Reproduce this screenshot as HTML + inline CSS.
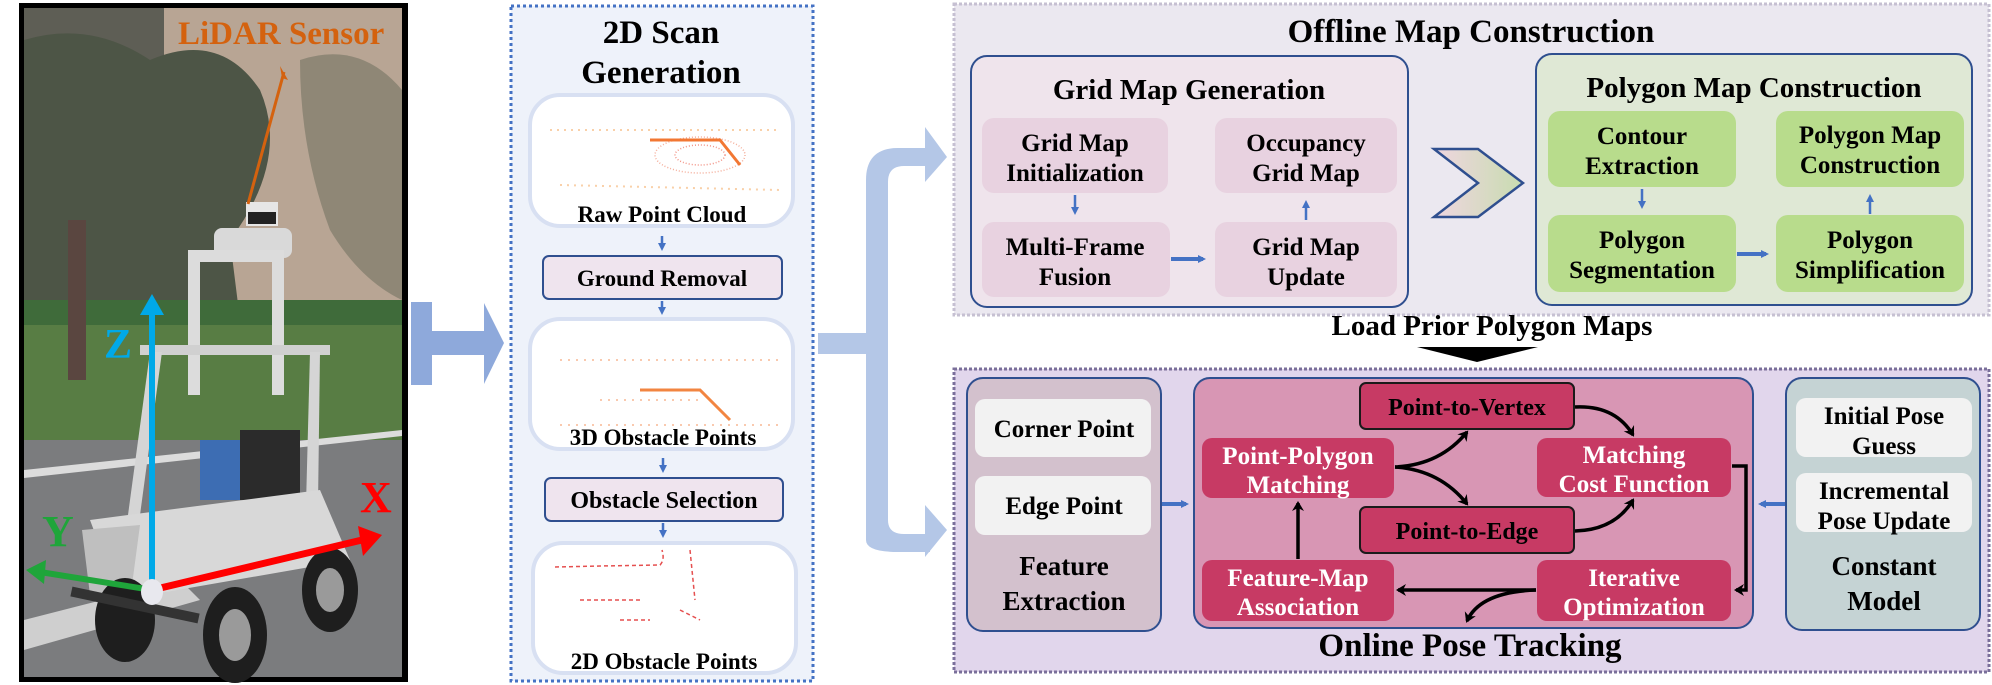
<!DOCTYPE html>
<html><head><meta charset="utf-8"><style>
html,body{margin:0;padding:0;background:#fff}
svg{display:block}
text{font-family:"Liberation Serif",serif;font-weight:bold;}
</style></head><body>
<svg width="1992" height="685" viewBox="0 0 1992 685" xmlns="http://www.w3.org/2000/svg">
<defs>
<linearGradient id="chev" x1="0" x2="1"><stop offset="0" stop-color="#efd6e0"/><stop offset="1" stop-color="#c8dcb0"/></linearGradient>
<marker id="bm" markerWidth="8" markerHeight="8" refX="5" refY="4" orient="auto" markerUnits="userSpaceOnUse"><path d="M0,0 L8,4 L0,8 Z" fill="#4472c4"/></marker>
<marker id="km" markerWidth="12" markerHeight="12" refX="8" refY="6" orient="auto" markerUnits="userSpaceOnUse"><path d="M0,0 L10,6 L0,12 L3,6 Z" fill="#000"/></marker>
</defs>

<!-- PHOTO -->
<rect x="19" y="3" width="389" height="679" fill="#000"/>
<rect x="24" y="8" width="378" height="669" fill="#a59482"/>
<rect x="24" y="8" width="378" height="300" fill="#b8a594"/>
<rect x="24" y="8" width="140" height="300" fill="#5e5e55"/>
<path d="M24,40 Q90,20 150,60 Q220,30 260,90 Q290,160 230,240 L240,320 L24,320 Z" fill="#4d5546"/>
<path d="M300,60 Q360,40 402,90 L402,300 Q360,280 330,230 Q300,150 300,60Z" fill="#7d7a6a" opacity="0.7"/>
<rect x="24" y="300" width="378" height="30" fill="#3f6b3a"/>
<rect x="24" y="325" width="378" height="120" fill="#587d44"/>
<rect x="24" y="440" width="378" height="237" fill="#7b7c7e"/>
<path d="M24,470 L402,430 L402,436 L24,478Z" fill="#dcdcdc"/>
<path d="M24,620 L180,580 L200,600 L24,650Z" fill="#cfcfcf"/>
<rect x="68" y="220" width="18" height="160" fill="#5a4640"/>
<rect x="246" y="202" width="32" height="24" fill="#e6e6e6"/>
<rect x="248" y="212" width="28" height="12" fill="#222"/>
<rect x="214" y="228" width="78" height="30" rx="8" fill="#d9d9d9"/>
<path d="M188,250 L284,250 L284,395 L272,395 L272,262 L200,262 L200,395 L188,395Z" fill="#dcdcdc"/>
<rect x="140" y="345" width="190" height="10" fill="#d0d0d0"/>
<path d="M150,352 L162,352 L140,515 L128,515Z" fill="#d5d5d5"/>
<path d="M310,352 L320,352 L318,505 L306,505Z" fill="#d5d5d5"/>
<rect x="200" y="440" width="50" height="60" fill="#3d6db3"/>
<rect x="240" y="430" width="60" height="70" fill="#2b2b2b"/>
<path d="M90,520 L320,490 L350,560 L120,600 Z" fill="#d8d8d8"/>
<path d="M82,530 L140,525 L130,600 L90,595Z" fill="#bfbfbf"/>
<ellipse cx="125" cy="620" rx="30" ry="42" fill="#1e1e1e"/>
<ellipse cx="235" cy="635" rx="32" ry="48" fill="#1e1e1e"/>
<ellipse cx="235" cy="635" rx="16" ry="26" fill="#9a9a9a"/>
<ellipse cx="330" cy="590" rx="28" ry="42" fill="#1e1e1e"/>
<ellipse cx="330" cy="590" rx="14" ry="22" fill="#9a9a9a"/>
<rect x="70" y="600" width="130" height="10" fill="#333" transform="rotate(12 135 605)"/>
<line x1="248" y1="204" x2="284" y2="72" stroke="#d4620f" stroke-width="3"/>
<path d="M280,66 L288,80 L282,78Z" fill="#d4620f"/>
<text x="178" y="44" font-size="33" fill="#d4620f">LiDAR Sensor</text>
<line x1="152" y1="590" x2="152" y2="310" stroke="#00a9e8" stroke-width="6"/>
<path d="M140,315 L152,294 L164,315Z" fill="#00a9e8"/>
<text x="104" y="358" font-size="42" fill="#00a9e8">Z</text>
<line x1="152" y1="590" x2="362" y2="540" stroke="#ff0000" stroke-width="7"/>
<path d="M358,526 L382,535 L363,556Z" fill="#ff0000"/>
<text x="360" y="512" font-size="44" fill="#ff0000">X</text>
<line x1="152" y1="590" x2="40" y2="572" stroke="#1fa53a" stroke-width="6"/>
<path d="M46,560 L26,570 L44,584Z" fill="#1fa53a"/>
<text x="42" y="546" font-size="44" fill="#1fa53a">Y</text>
<ellipse cx="152" cy="592" rx="11" ry="13" fill="#e8e8ee"/>

<rect x="411" y="302" width="21" height="83" fill="#8ea9db"/>
<rect x="430" y="331" width="56" height="24" fill="#8ea9db"/>
<path d="M484,303 L504,343 L484,384 Z" fill="#8ea9db"/>

<!-- Scan panel -->
<rect x="511" y="6" width="302" height="675" fill="#eef2fa" stroke="#4472c4" stroke-width="3" stroke-dasharray="3,3"/>
<text x="661" y="43" font-size="33" text-anchor="middle">2D Scan</text>
<text x="661" y="83" font-size="33" text-anchor="middle">Generation</text>
<rect x="530" y="95" width="263" height="131" rx="30" fill="#fff" stroke="#d8e0f2" stroke-width="4"/>
<rect x="530" y="319" width="263" height="130" rx="30" fill="#fff" stroke="#d8e0f2" stroke-width="4"/>
<rect x="533" y="543" width="263" height="130" rx="30" fill="#fff" stroke="#d8e0f2" stroke-width="4"/>
<g opacity="0.85">
<ellipse cx="700" cy="155" rx="45" ry="18" fill="none" stroke="#f3a18a" stroke-width="1.5" stroke-dasharray="1,2"/>
<ellipse cx="700" cy="155" rx="25" ry="10" fill="none" stroke="#f08070" stroke-width="1.5" stroke-dasharray="1,2"/>
<path d="M650,140 L720,140 L740,165" stroke="#f06010" stroke-width="3" fill="none"/>
<path d="M550,130 L780,130 M560,185 L780,190" stroke="#f8c89a" stroke-width="2" stroke-dasharray="2,5" fill="none"/>
<path d="M640,390 L700,390 L730,420" stroke="#f07020" stroke-width="3" fill="none"/>
<path d="M560,360 L780,360 M600,400 L700,400 M560,425 L780,425" stroke="#f8c0a0" stroke-width="2" stroke-dasharray="2,6" fill="none"/>
<path d="M555,567 L600,566 L660,565 Q665,560 662,550 M690,550 L695,600 M580,600 L640,600 M620,620 L650,620 M680,610 L700,620" stroke="#e03030" stroke-width="1.5" stroke-dasharray="4,3" fill="none"/>
</g>
<text x="662" y="222" font-size="23" text-anchor="middle">Raw Point Cloud</text>
<text x="663" y="445" font-size="23" text-anchor="middle">3D Obstacle Points</text>
<text x="664" y="669" font-size="23" text-anchor="middle">2D Obstacle Points</text>
<rect x="543" y="256" width="239" height="43" rx="6" fill="#efe4ee" stroke="#2f4f8f" stroke-width="2"/>
<text x="662" y="286" font-size="23" text-anchor="middle">Ground Removal</text>
<rect x="545" y="478" width="238" height="43" rx="6" fill="#efe4ee" stroke="#2f4f8f" stroke-width="2"/>
<text x="664" y="508" font-size="24" text-anchor="middle">Obstacle Selection</text>
<g stroke="#4472c4" stroke-width="2.5"><line x1="662" y1="236" x2="662" y2="248" marker-end="url(#bm)"/><line x1="662" y1="301" x2="662" y2="312" marker-end="url(#bm)"/><line x1="663" y1="458" x2="663" y2="470" marker-end="url(#bm)"/><line x1="663" y1="523" x2="663" y2="535" marker-end="url(#bm)"/></g>

<rect x="818" y="333" width="55" height="21" fill="#b4c7e7"/>
<path d="M866,540 L866,180 Q866,148 898,148 L930,148 L930,166 L904,166 Q888,166 888,182 L888,520 Q888,534 904,534 L930,534 L930,552 L898,552 Q866,552 866,540Z" fill="#b4c7e7"/>
<path d="M925,127 L947,157 L925,182Z" fill="#b4c7e7"/>
<path d="M925,505 L947,530 L925,557Z" fill="#b4c7e7"/>

<!-- Offline panel -->
<rect x="954" y="4" width="1035" height="311" fill="#ebe8f0" stroke="#c6c0d2" stroke-width="3" stroke-dasharray="3,2"/>
<text x="1471" y="42" font-size="33" text-anchor="middle">Offline Map Construction</text>
<rect x="971" y="56" width="437" height="251" rx="16" fill="#efe4ec" stroke="#2f4f8f" stroke-width="2"/>
<text x="1189" y="99" font-size="29" text-anchor="middle">Grid Map Generation</text>
<g fill="#e8d2e0">
<rect x="982" y="118" width="186" height="75" rx="12"/><rect x="1215" y="118" width="182" height="75" rx="12"/>
<rect x="982" y="222" width="188" height="75" rx="12"/><rect x="1215" y="222" width="182" height="75" rx="12"/>
</g>
<g font-size="25" text-anchor="middle">
<text x="1075" y="151">Grid Map</text><text x="1075" y="181">Initialization</text>
<text x="1306" y="151">Occupancy</text><text x="1306" y="181">Grid Map</text>
<text x="1075" y="255">Multi-Frame</text><text x="1075" y="285">Fusion</text>
<text x="1306" y="255">Grid Map</text><text x="1306" y="285">Update</text>
</g>
<g stroke="#4472c4" stroke-width="2.5">
<line x1="1075" y1="195" x2="1075" y2="212" marker-end="url(#bm)"/>
<line x1="1306" y1="220" x2="1306" y2="203" marker-end="url(#bm)"/>
<line x1="1171" y1="259" x2="1203" y2="259" stroke-width="4" marker-end="url(#bm)"/>
</g>
<path d="M1434,149 L1478,149 L1523,183 L1478,217 L1434,217 L1478,183Z" fill="url(#chev)" stroke="#2f4f8f" stroke-width="2.5"/>
<rect x="1536" y="54" width="436" height="251" rx="16" fill="#dfe8d5" stroke="#2f4f8f" stroke-width="2"/>
<text x="1754" y="97" font-size="29" text-anchor="middle">Polygon Map Construction</text>
<g fill="#b8dc8c">
<rect x="1548" y="111" width="188" height="76" rx="12"/><rect x="1776" y="111" width="188" height="76" rx="12"/>
<rect x="1548" y="215" width="188" height="77" rx="12"/><rect x="1776" y="215" width="188" height="77" rx="12"/>
</g>
<g font-size="25" text-anchor="middle">
<text x="1642" y="144">Contour</text><text x="1642" y="174">Extraction</text>
<text x="1870" y="143">Polygon Map</text><text x="1870" y="173">Construction</text>
<text x="1642" y="248">Polygon</text><text x="1642" y="278">Segmentation</text>
<text x="1870" y="248">Polygon</text><text x="1870" y="278">Simplification</text>
</g>
<g stroke="#4472c4" stroke-width="2.5">
<line x1="1642" y1="189" x2="1642" y2="206" marker-end="url(#bm)"/>
<line x1="1870" y1="214" x2="1870" y2="197" marker-end="url(#bm)"/>
<line x1="1737" y1="254" x2="1766" y2="254" stroke-width="4" marker-end="url(#bm)"/>
</g>
<text x="1492" y="335" font-size="29" text-anchor="middle">Load Prior Polygon Maps</text>
<path d="M1417,347 L1538,347 L1477,362Z" fill="#000"/>

<!-- Online panel -->
<rect x="954" y="369" width="1035" height="303" fill="#e1d6ec" stroke="#7a6f9a" stroke-width="3" stroke-dasharray="3,2"/>
<rect x="967" y="378" width="194" height="253" rx="16" fill="#d3c1cd" stroke="#2f4f8f" stroke-width="2"/>
<rect x="975" y="399" width="176" height="58" rx="10" fill="#f2f2f2"/>
<rect x="975" y="476" width="176" height="59" rx="10" fill="#f2f2f2"/>
<g font-size="25" text-anchor="middle">
<text x="1064" y="437">Corner Point</text><text x="1064" y="514">Edge Point</text>
<text x="1064" y="575" font-size="27">Feature</text><text x="1064" y="610" font-size="27">Extraction</text>
</g>
<rect x="1194" y="378" width="559" height="250" rx="16" fill="#d896b4" stroke="#2f4f8f" stroke-width="2"/>
<rect x="1786" y="378" width="194" height="252" rx="16" fill="#c5d3d4" stroke="#2f4f8f" stroke-width="2"/>
<rect x="1796" y="398" width="176" height="59" rx="10" fill="#f2f2f2"/>
<rect x="1796" y="473" width="176" height="59" rx="10" fill="#f2f2f2"/>
<g font-size="25" text-anchor="middle">
<text x="1884" y="424">Initial Pose</text><text x="1884" y="454">Guess</text>
<text x="1884" y="499">Incremental</text><text x="1884" y="529">Pose Update</text>
<text x="1884" y="575" font-size="27">Constant</text><text x="1884" y="610" font-size="27">Model</text>
</g>
<g stroke="#4472c4" stroke-width="4">
<line x1="1162" y1="504" x2="1186" y2="504" marker-end="url(#bm)"/>
<line x1="1785" y1="504" x2="1761" y2="504" marker-end="url(#bm)"/>
</g>
<g fill="#c73a64">
<rect x="1360" y="383" width="214" height="46" rx="6" stroke="#1a1a1a" stroke-width="2"/>
<rect x="1360" y="507" width="214" height="46" rx="6" stroke="#1a1a1a" stroke-width="2"/>
<rect x="1202" y="438" width="192" height="60" rx="10"/>
<rect x="1537" y="438" width="194" height="59" rx="10"/>
<rect x="1202" y="560" width="192" height="61" rx="10"/>
<rect x="1537" y="560" width="194" height="61" rx="10"/>
</g>
<g font-size="24" text-anchor="middle">
<text x="1467" y="415">Point-to-Vertex</text>
<text x="1467" y="539">Point-to-Edge</text>
</g>
<g font-size="25" text-anchor="middle" fill="#fff">
<text x="1298" y="464">Point-Polygon</text><text x="1298" y="493">Matching</text>
<text x="1634" y="463">Matching</text><text x="1634" y="492">Cost Function</text>
<text x="1298" y="586">Feature-Map</text><text x="1298" y="615">Association</text>
<text x="1634" y="586">Iterative</text><text x="1634" y="615">Optimization</text>
</g>
<g stroke="#000" stroke-width="3.5" fill="none">
<path d="M1395,467 Q1440,465 1467,432" marker-end="url(#km)"/>
<path d="M1395,467 Q1440,470 1467,504" marker-end="url(#km)"/>
<path d="M1575,407 Q1615,405 1633,435" marker-end="url(#km)"/>
<path d="M1575,531 Q1615,530 1633,500" marker-end="url(#km)"/>
<path d="M1732,466 L1746,466 L1746,590 L1736,590" marker-end="url(#km)"/>
<path d="M1536,590 L1398,590" marker-end="url(#km)"/>
<path d="M1536,590 Q1480,592 1467,621" marker-end="url(#km)"/>
<path d="M1298,559 L1298,503" marker-end="url(#km)"/>
</g>
<text x="1470" y="656" font-size="33" text-anchor="middle">Online Pose Tracking</text>
</svg>
</body></html>
